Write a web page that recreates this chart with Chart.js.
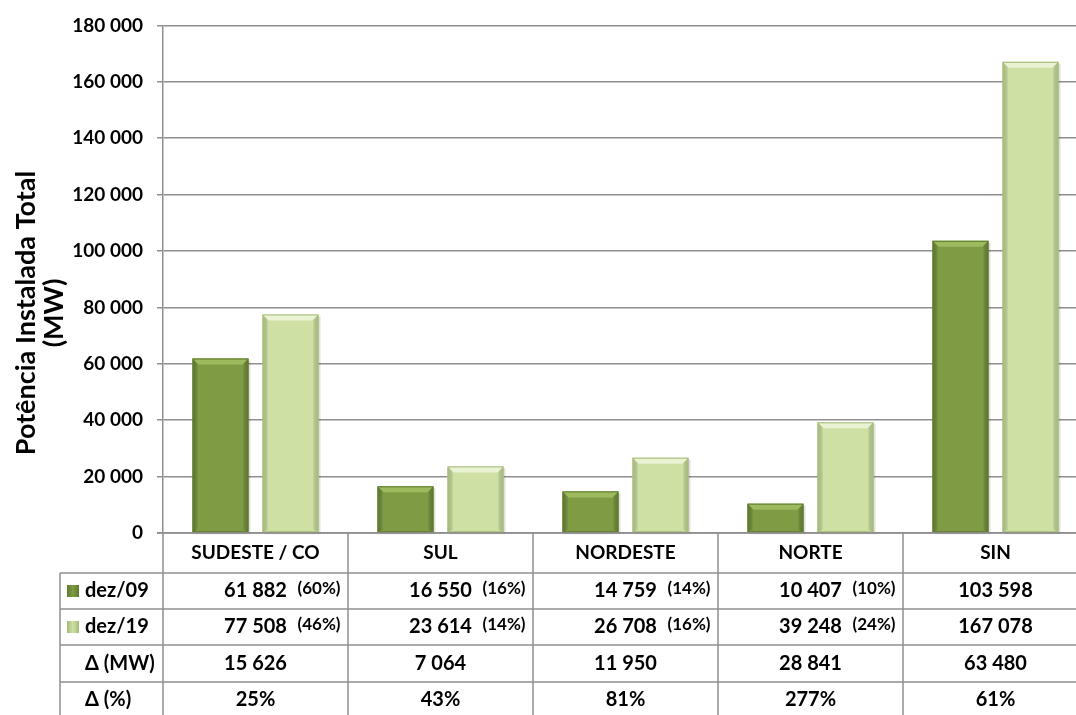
<!DOCTYPE html>
<html>
<head>
<meta charset="utf-8">
<script src="https://cdn.jsdelivr.net/npm/chart.js@4"></script>
<style>
    html, body { margin: 0; padding: 0; background: #fff; overflow: hidden; }
    #wrap { width: 1088px; height: 715px; position: relative; }
</style>
</head>
<body>
<div id="wrap"><canvas id="potenciaChart"></canvas></div>
<script>
var categories = ['SUDESTE / CO', 'SUL', 'NORDESTE', 'NORTE', 'SIN'];
var dez09 = [61882, 16550, 14759, 10407, 103598];
var dez19 = [77508, 23614, 26708, 39248, 167078];
var share09 = ['(60%)', '(16%)', '(14%)', '(10%)', ''];
var share19 = ['(46%)', '(14%)', '(16%)', '(24%)', ''];
var deltaMW = [15626, 7064, 11950, 28841, 63480];
var deltaPct = ['25%', '43%', '81%', '277%', '61%'];
var yTicks = [0, 20000, 40000, 60000, 80000, 100000, 120000, 140000, 160000, 180000];

var FONT = 'Lato, "Open Sans", sans-serif';
var GRID = '#8f8f8f';

function fmt(n) {
    return String(n).replace(/\B(?=(\d{3})+(?!\d))/g, ' ');
}

// bevel / shading on top of the flat bars
var bevelPlugin = {
    id: 'bevel',
    beforeDatasetsDraw: function (chart) {
        // soft drop shadow
        var ctx = chart.ctx;
        chart.data.datasets.forEach(function (ds, di) {
            chart.getDatasetMeta(di).data.forEach(function (bar) {
                var l = bar.x - bar.width / 2;
                ctx.fillStyle = 'rgba(0,0,0,0.12)';
                ctx.fillRect(l + 2, bar.y + 2, bar.width, bar.base - bar.y);
            });
        });
    },
    afterDatasetsDraw: function (chart) {
        var ctx = chart.ctx;
        chart.data.datasets.forEach(function (ds, di) {
            var meta = chart.getDatasetMeta(di);
            meta.data.forEach(function (bar) {
                var l = bar.x - bar.width / 2, r = bar.x + bar.width / 2;
                var t = bar.y, b = bar.base, e = 6;
                ctx.save();
                // top bevel
                ctx.fillStyle = ds.topColor;
                ctx.beginPath();
                ctx.moveTo(l, t); ctx.lineTo(r, t); ctx.lineTo(r - e, t + e); ctx.lineTo(l + e, t + e);
                ctx.closePath(); ctx.fill();
                // side shading
                var g = ctx.createLinearGradient(l, 0, l + e, 0);
                g.addColorStop(0, ds.edgeColor); g.addColorStop(1, 'rgba(0,0,0,0)');
                ctx.fillStyle = g;
                ctx.beginPath();
                ctx.moveTo(l, t); ctx.lineTo(l + e, t + e); ctx.lineTo(l + e, b - 3); ctx.lineTo(l, b);
                ctx.closePath(); ctx.fill();
                g = ctx.createLinearGradient(r, 0, r - e, 0);
                g.addColorStop(0, ds.edgeColor); g.addColorStop(1, 'rgba(0,0,0,0)');
                ctx.fillStyle = g;
                ctx.beginPath();
                ctx.moveTo(r, t); ctx.lineTo(r - e, t + e); ctx.lineTo(r - e, b - 3); ctx.lineTo(r, b);
                ctx.closePath(); ctx.fill();
                ctx.strokeStyle = ds.borderColor;
                ctx.lineWidth = 1;
                ctx.strokeRect(l + 0.5, t + 0.5, r - l - 1, b - t - 1);
                ctx.restore();
            });
        });
    }
};

// data table under the plot + axis title
var tablePlugin = {
    id: 'dataTable',
    afterDraw: function (chart) {
        var ctx = chart.ctx;
        var x = chart.scales.x;
        var area = chart.chartArea;
        var catW = x.getPixelForValue(1) - x.getPixelForValue(0);
        var rows = [area.bottom, 573, 609, 645, 682, 718];
        var labelLeft = 60;
        var right = x.getPixelForValue(categories.length - 1) + catW / 2;

        ctx.save();
        ctx.strokeStyle = GRID;
        ctx.lineWidth = 1.5;
        ctx.beginPath();
        // horizontal lines
        ctx.moveTo(area.left - 6, rows[0]); ctx.lineTo(right, rows[0]);
        for (var r = 1; r < rows.length - 1; r++) {
            ctx.moveTo(labelLeft, rows[r]); ctx.lineTo(right, rows[r]);
        }
        // vertical lines
        ctx.moveTo(labelLeft, rows[1]); ctx.lineTo(labelLeft, rows[5]);
        for (var c = 0; c <= categories.length; c++) {
            var vx = x.getPixelForValue(0) - catW / 2 + c * catW;
            ctx.moveTo(vx, rows[0]); ctx.lineTo(vx, rows[5]);
        }
        ctx.stroke();

        ctx.fillStyle = '#000';
        ctx.textBaseline = 'middle';
        function mid(i) { return (rows[i] + rows[i + 1]) / 2; }

        // header row: category names
        ctx.font = 'bold 19px ' + FONT;
        ctx.textAlign = 'center';
        categories.forEach(function (cat, i) {
            ctx.fillText(cat, x.getPixelForValue(i), mid(0));
        });

        // row labels
        var ds = chart.data.datasets;
        ctx.textAlign = 'left';
        ctx.font = 'bold 20px ' + FONT;
        [1, 2].forEach(function (ri, k) {
            var g = ctx.createLinearGradient(67, 0, 79, 0);
            g.addColorStop(0, ds[k].borderColor);
            g.addColorStop(0.5, ds[k].backgroundColor);
            g.addColorStop(1, ds[k].borderColor);
            ctx.fillStyle = g;
            ctx.fillRect(67, mid(ri) - 6, 12, 12);
            ctx.fillStyle = '#000';
            ctx.fillText(ds[k].label, 85, mid(ri));
        });
        ctx.fillText('\u0394 (MW)', 85, mid(3));
        ctx.fillText('\u0394 (%)', 85, mid(4));

        // values
        var rowVals = [
            [dez09, share09],
            [dez19, share19]
        ];
        categories.forEach(function (cat, i) {
            var cx = x.getPixelForValue(i);
            ctx.textAlign = 'center';
            ctx.font = 'bold 20px ' + FONT;
            rowVals.forEach(function (rv, k) {
                ctx.fillText(fmt(rv[0][i]), cx, mid(k + 1));
            });
            ctx.fillText(fmt(deltaMW[i]), cx, mid(3));
            ctx.fillText(deltaPct[i], cx, mid(4));
            ctx.textAlign = 'left';
            ctx.font = 'bold 17px ' + FONT;
            rowVals.forEach(function (rv, k) {
                if (rv[1][i]) ctx.fillText(rv[1][i], cx + 42, mid(k + 1) - 2);
            });
        });

        // y axis title (centred on the whole figure height like the original)
        ctx.font = 'bold 27px ' + FONT;
        ctx.textAlign = 'center';
        ctx.textBaseline = 'alphabetic';
        ctx.translate(0, 313);
        ctx.rotate(-Math.PI / 2);
        ctx.fillText('Pot\u00eancia Instalada Total', 0, 35);
        ctx.fillText('(MW)', 0, 63);
        ctx.restore();
    }
};

document.addEventListener('DOMContentLoaded', function () {
    var ctx = document.getElementById('potenciaChart').getContext('2d');
    var chart = new Chart(ctx, {
        type: 'bar',
        data: {
            labels: categories,
            datasets: [{
                label: 'dez/09',
                data: dez09,
                backgroundColor: '#7f9c45',
                borderColor: '#5f7a2c',
                topColor: '#9dba5e',
                edgeColor: 'rgba(70, 95, 30, 0.5)',
                borderWidth: 0
            }, {
                label: 'dez/19',
                data: dez19,
                backgroundColor: '#cee0a4',
                borderColor: '#a4bb78',
                topColor: '#e9f2d3',
                edgeColor: 'rgba(140, 165, 95, 0.45)',
                borderWidth: 0
            }]
        },
        options: {
            responsive: true,
            maintainAspectRatio: false,
            animation: false,
            categoryPercentage: 0.757,
            barPercentage: 0.8,
            layout: {
                padding: { top: 4, bottom: 182, left: 0, right: 0 }
            },
            plugins: {
                legend: { display: false },
                tooltip: { enabled: false }
            },
            scales: {
                x: {
                    afterFit: function (scale) { scale.height = 0; },
                    grid: { display: false },
                    border: { display: false },
                    ticks: { display: false }
                },
                y: {
                    min: 0,
                    max: 180000,
                    afterFit: function (scale) { scale.width = 163; },
                    afterBuildTicks: function (scale) {
                        scale.ticks = yTicks.map(function (v) { return { value: v }; });
                    },
                    grid: { color: GRID, lineWidth: 1.5, tickLength: 6 },
                    border: { color: GRID, width: 1.5 },
                    ticks: {
                        padding: 14,
                        color: '#000',
                        font: { family: FONT, size: 19, weight: 'bold' },
                        callback: function (v) { return fmt(v); }
                    }
                }
            }
        },
        plugins: [bevelPlugin, tablePlugin]
    });
});
</script>
</body>
</html>
